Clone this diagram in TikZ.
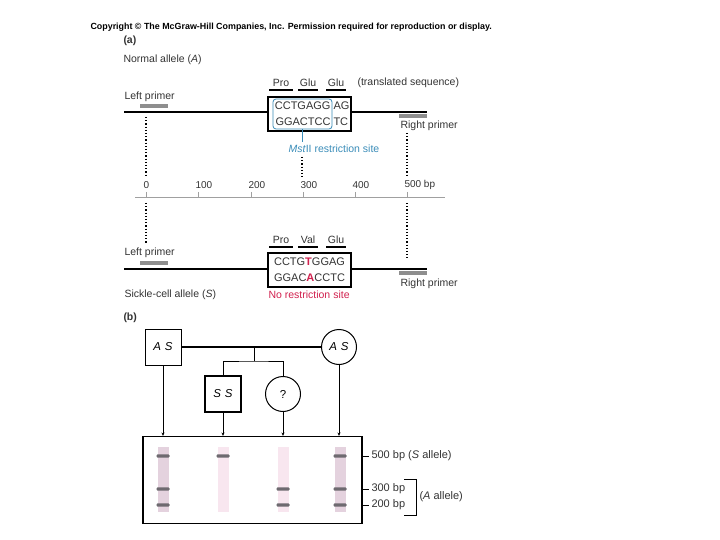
\documentclass[tikz,border=0pt]{standalone}
\usepackage{fontspec}
\setmainfont{Liberation Sans}
\usetikzlibrary{arrows.meta,positioning}
\definecolor{textgray}{HTML}{333333}
\definecolor{axisgray}{HTML}{A0A0A0}
\definecolor{primergray}{HTML}{8E8E8E}
\definecolor{siteblue}{HTML}{3A8CB8}
\definecolor{mutred}{HTML}{D1204E}
\definecolor{lanemauve}{HTML}{E4D2DE}
\definecolor{lanepink}{HTML}{F8E6EF}
\definecolor{bandgray}{HTML}{6E6A70}

\begin{document}
\begin{tikzpicture}[x=1pt, y=-1pt, >={Stealth[length=3.5pt,width=3pt]}, line width=1pt,
  lbl/.style={font=\fontsize{10.5}{12}\selectfont, text=textgray, inner sep=0pt, anchor=west},
  seq/.style={font=\fontsize{11}{13}\selectfont, text=textgray, inner sep=0pt},
  codon/.style={font=\fontsize{10.5}{12}\selectfont, text=textgray, inner sep=0pt},
  seqbox/.style={draw, fill=white, line width=1.1pt, minimum width=83pt, minimum height=34pt, inner sep=0pt},
  primerbar/.style={primergray, line width=3.2pt},
  dna/.style={line width=1.6pt},
  guide/.style={dotted, line width=1.2pt},
  sqr/.style={draw, minimum size=36pt, inner sep=0pt, font=\fontsize{11.5}{13}\selectfont\itshape},
  circ/.style={draw, circle, minimum size=35pt, inner sep=0pt, font=\fontsize{11.5}{13}\selectfont\itshape},
  lead/.style={->, line width=0.6pt}]
  \useasboundingbox (0,0) rectangle (720,540);

  % header
  \node[anchor=west, inner sep=0pt, font=\fontsize{8.9}{10}\selectfont\bfseries] (copy) at (90,27)
    {Copyright © The McGraw-Hill Companies, Inc. Permission required for reproduction or display.};
  \node[lbl, font=\fontsize{10.5}{12}\selectfont\bfseries] (parta) at (123,41) {(a)};
  \node[lbl] (normal) at (123,60) {Normal allele (\textit{A})};

  % normal allele
  \draw[dna] (124,112) -- (427,112);
  \draw[primerbar] (140,106) -- (168,106);
  \draw[primerbar] (399,116) -- (427,116);
  \node[lbl] (leftA) at (124,97) {Left primer};
  \node[lbl] (rightA) at (400,126) {Right primer};
  \node[seqbox] (boxA) at (309.5,114) {};
  \node[seq, anchor=east] (topA) at (331,106) {CCTGAGG};
  \node[seq, anchor=west] at (333,106) {AG};
  \node[seq, anchor=east] (botA) at (331,122) {GGACTCC};
  \node[seq, anchor=west] at (333,122) {TC};
  \draw[siteblue, line width=0.8pt, rounded corners=3pt] (273,99) rectangle (332,129);
  \coordinate (siteA) at (302,129);
  \node[lbl, text=siteblue] (mst) at (288,149) {\textit{Mst}II restriction site};
  \draw[siteblue, line width=0.8pt] (siteA) -- (302,142);
  \foreach \cx/\w/\t in {281/12/Pro, 308/10/Glu, 336/10/Glu} {
    \node[codon] at (\cx,83) {\t};
    \draw[line width=1.3pt] (\cx-\w,90) -- (\cx+\w,90);
  }
  \node[lbl] (trans) at (357,83) {(translated sequence)};

  % length scale
  \draw[axisgray] (135,198) -- (445,198);
  \foreach \tx/\tl in {146/0, 198/100, 251/200, 303/300, 355/400} {
    \draw[axisgray] (\tx,192) -- (\tx,198);
    \node[codon, anchor=west, font=\fontsize{10}{12}\selectfont] at (\tx-3,185) {\tl};
  }
  \draw[axisgray] (407,192) -- (407,198);
  \node[codon, anchor=west, font=\fontsize{10}{12}\selectfont] (bp) at (404,185) {500 bp};
  \draw[guide] (146,117) -- (146,176);
  \draw[guide] (146,203) -- (146,243);
  \draw[guide] (407,133) -- (407,176);
  \draw[guide] (407,203) -- (407,258);
  \draw[guide] (302,157) -- (302,177);

  % sickle-cell allele
  \draw[dna] (124,269) -- (427,269);
  \draw[primerbar] (140,263) -- (168,263);
  \draw[primerbar] (399,273) -- (427,273);
  \node[lbl] (leftS) at (124,253) {Left primer};
  \node[lbl] (rightS) at (400,284) {Right primer};
  \node[seqbox] (boxS) at (309.5,270) {};
  \node[seq] (topS) at (boxS.center) [yshift=8pt] {CCTG\textbf{\color{mutred}T}GGAG};
  \node[seq] (botS) at (boxS.center) [yshift=-8pt] {GGAC\textbf{\color{mutred}A}CCTC};
  \foreach \cx/\w/\t in {281/12/Pro, 308/10/Val, 336/10/Glu} {
    \node[codon] at (\cx,240) {\t};
    \draw[line width=1.3pt] (\cx-\w,247) -- (\cx+\w,247);
  }
  \node[lbl] (sickle) at (124,295) {Sickle-cell allele (\textit{S})};
  \node[lbl, text=mutred] (nosite) at (268,295) {No restriction site};

  % (b) pedigree
  \node[lbl, font=\fontsize{10.5}{12}\selectfont\bfseries] (partb) at (123,318) {(b)};
  \node[sqr] (father) at (163,347) {A\,\,S};
  \node[circ] (mother) at (339,347) {A\,\,S};
  \node[sqr, line width=1.5pt] (son) at (223,394) {S\,\,S};
  \node[circ] (child) at (283,394) {\upshape ?};
  \coordinate (mate) at (254,347);
  \coordinate (sibs) at (254,361);
  \draw[line width=1.5pt] (father) -- (mother);
  \draw (mate) -- (sibs);
  \draw (son.north) |- (sibs) -| (child.north);

  % gel
  \node[draw, line width=1.1pt, minimum width=219pt, minimum height=87pt, inner sep=0pt] (gel) at (252.5,480) {};
  \foreach \p in {father, son, child, mother}
    \draw[lead] (\p.south) -- (\p.south |- gel.north);
  \foreach \lx/\lc in {163/lanemauve, 223/lanepink, 283/lanepink, 340/lanemauve}
    \fill[\lc] (\lx-5.5,447) rectangle (\lx+5.5,512);
  \foreach \lx/\by in {163/456, 163/489, 163/505, 223/456, 283/489, 283/505, 340/456, 340/489, 340/505}
    \fill[bandgray, rounded corners=1pt] (\lx-6.5,\by-1.6) rectangle (\lx+6.5,\by+1.6);
  \foreach \by/\bl in {456/{500 bp (\textit{S} allele)}, 489/{300 bp}, 505/{200 bp}} {
    \draw[line width=0.7pt] (363,\by) -- (369,\by);
    \node[lbl, font=\fontsize{11}{13}\selectfont] at (371,\by) {\bl};
  }
  \draw[line width=0.7pt] (404,479) -- (416,479) -- (416,515) -- (404,515);
  \node[lbl, font=\fontsize{11}{13}\selectfont] (aallele) at (419,497) {(\textit{A} allele)};
\end{tikzpicture}
\end{document}
